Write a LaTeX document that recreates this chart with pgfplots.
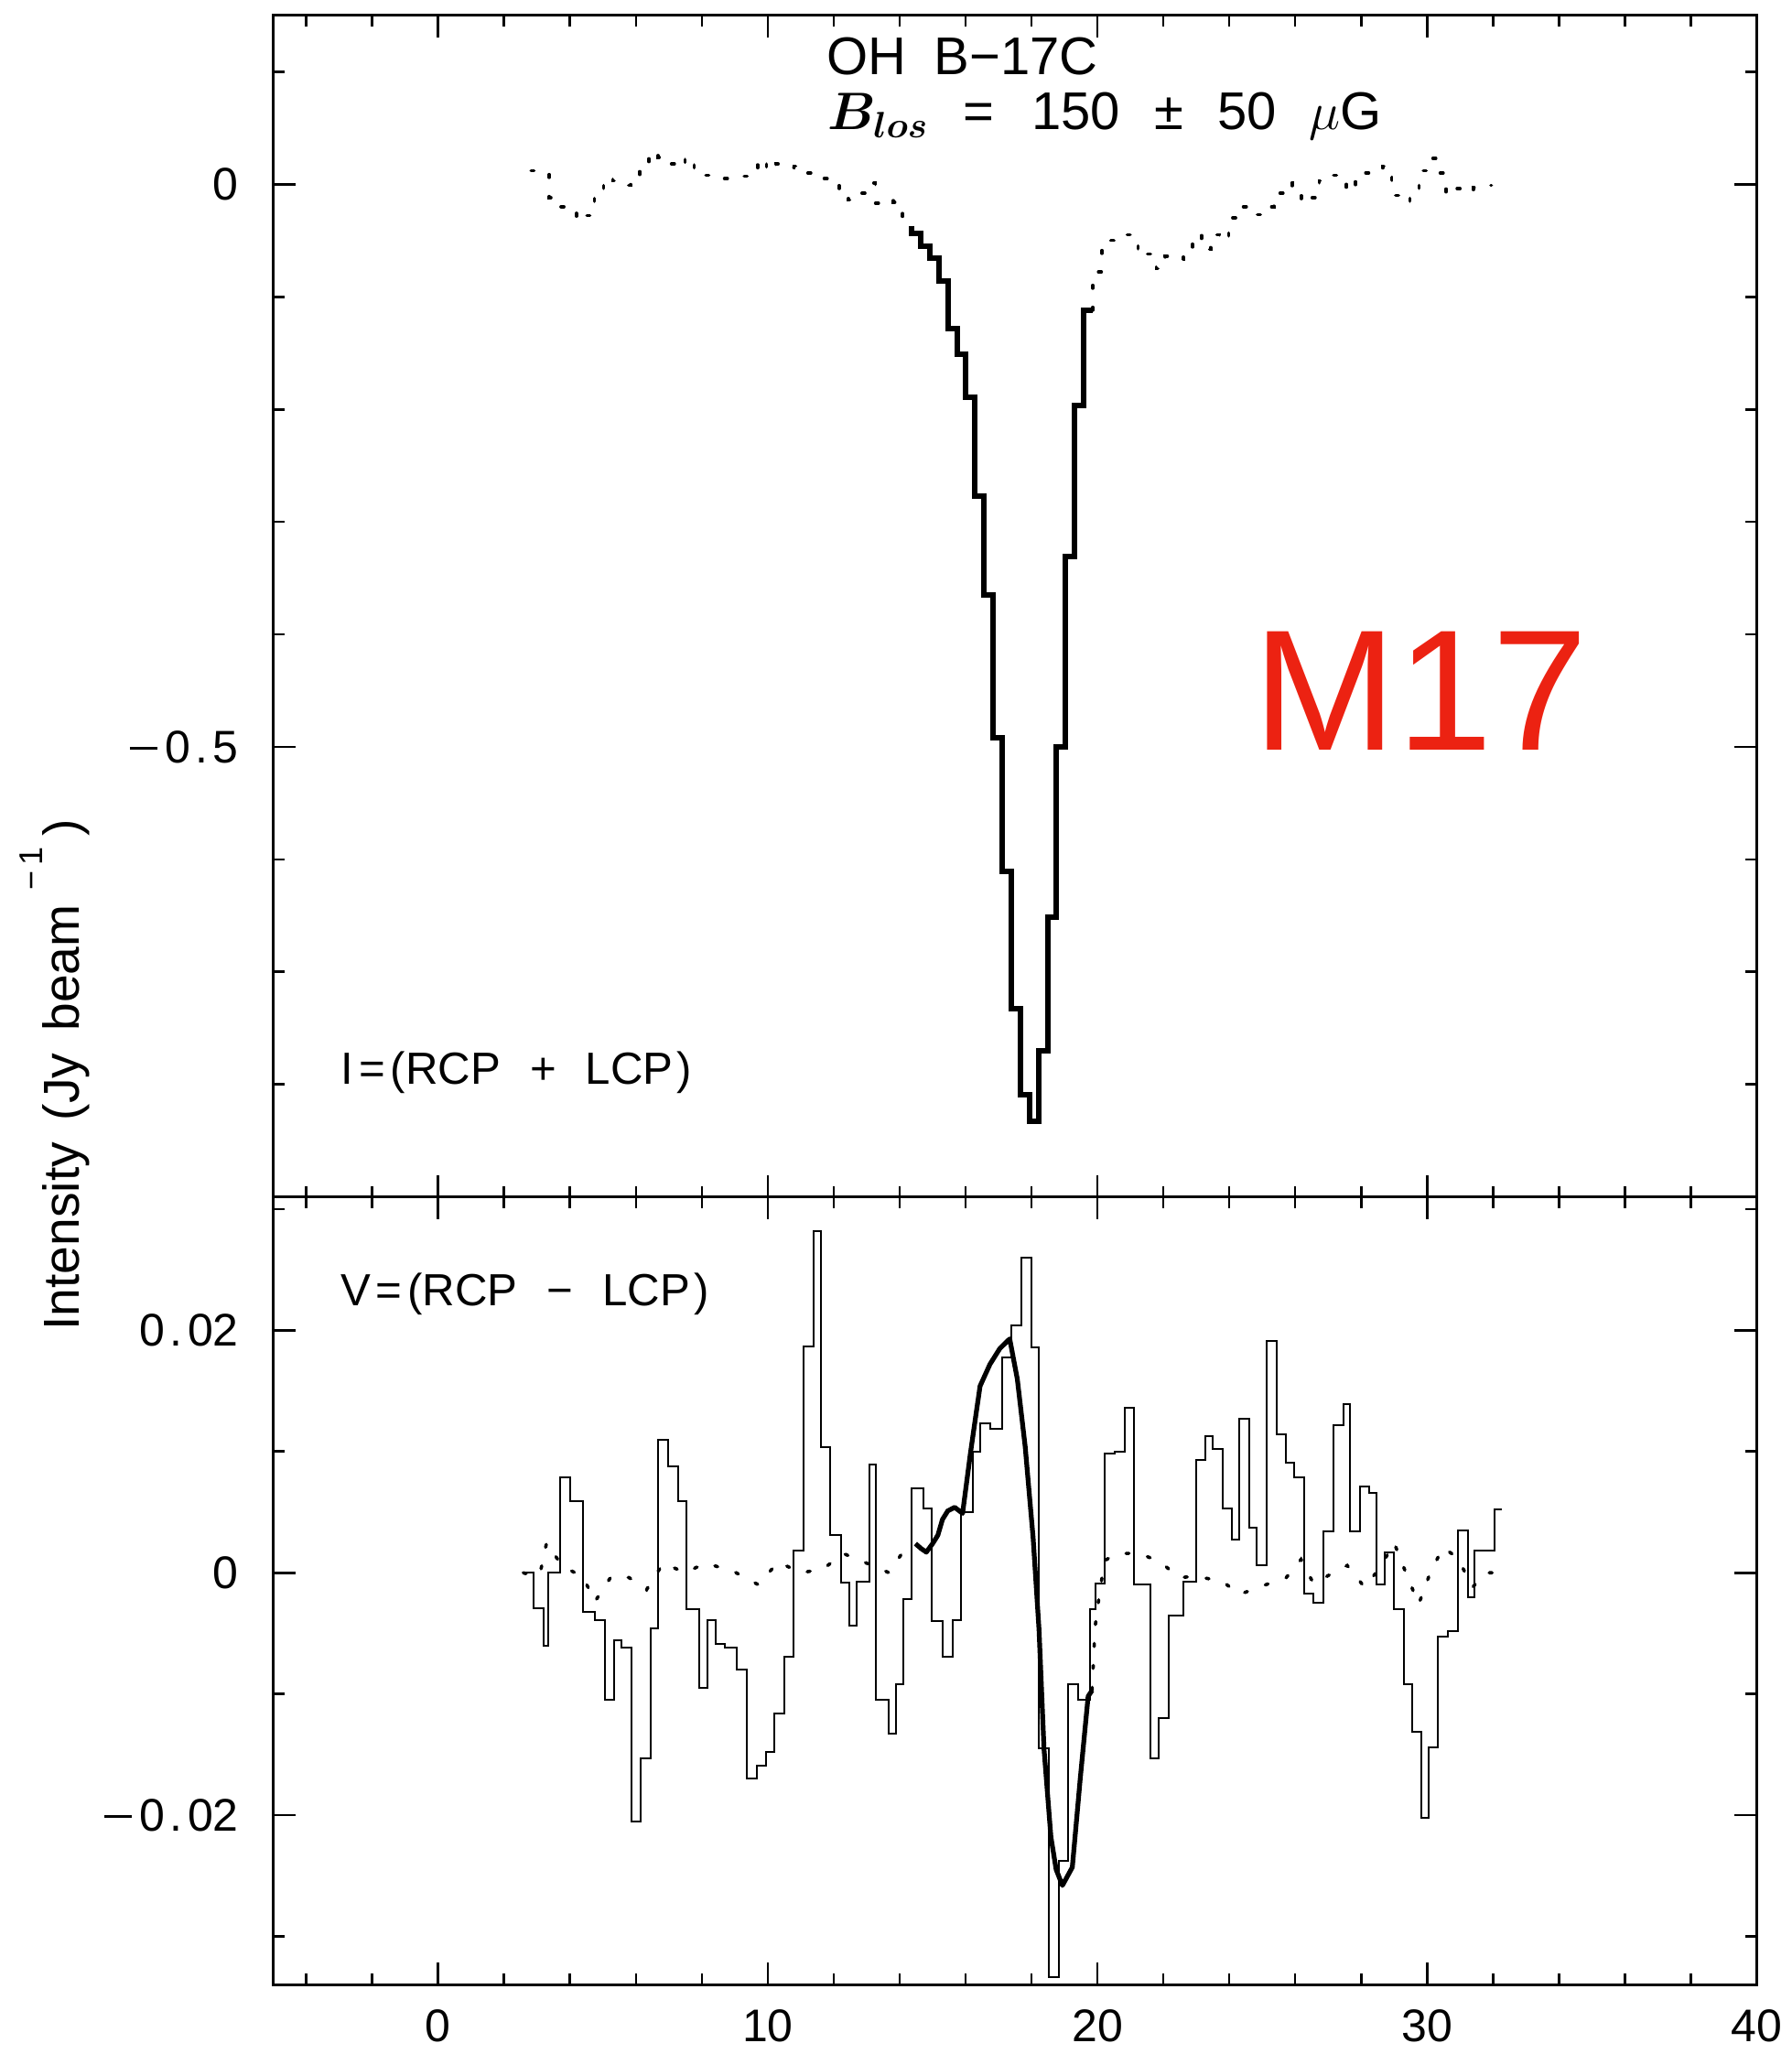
\documentclass[border=0pt]{standalone}
\usepackage{fontspec}
\setmainfont{Liberation Sans}
\usepackage{bm}
\usepackage{pgfplots}
\pgfplotsset{compat=1.18}
\definecolor{mred}{RGB}{236,34,18}
% long minus and wide decimal point, as in the tick labels of the original
\newcommand{\mns}{\rule[3.5pt]{7.5pt}{0.75pt}\kern2.2pt}
\newcommand{\dt}{\kern1.3pt.\kern1.3pt}

\begin{document}
\begin{tikzpicture}
\useasboundingbox (-74.7pt,-18.9pt) rectangle (414.6pt,542.1pt);
\pgfplotsset{
  zbase/.style={
    scale only axis, width=405.1pt, xmin=-5, xmax=40,
    axis line style={line width=0.8pt},
    every tick/.style={black, line width=0.7pt},
    major tick length=6pt, minor tick length=3pt,
    tick align=inside,
    xtick={0,10,20,30,40},
    minor xtick={-4,-2,...,38},
    scaled y ticks=false,
    tick label style={font=\fontsize{12.5}{15}\selectfont},
    yticklabel style={xshift=-6pt},
    xticklabel style={yshift=-3.3pt},
  },
  pdot/.style={black, line width=0.9pt, line cap=round, dash pattern=on 0.8pt off 5.2pt},
}

% lower panel: V = RCP - LCP
\begin{axis}[zbase, at={(0pt,0pt)}, anchor=south west, height=215.15pt,
  ymin=-0.034, ymax=0.031,
  ytick={-0.02,0,0.02}, yticklabels={\mns0\dt02,0,0\dt02},
  minor ytick={-0.03,-0.01,0.01,0.03},
  xticklabels={0,10,20,30,40}]
\addplot[black, line width=0.5pt, const plot mark right] table {
2.58 0.000
2.90 0.000
3.20 -0.0029
3.35 -0.0060
3.71 0.000
4.00 0.0079
4.39 0.0059
4.75 -0.0032
5.05 -0.0039
5.34 -0.0105
5.55 -0.0056
5.85 -0.0062
6.15 -0.0205
6.44 -0.0153
6.68 -0.0046
6.98 0.0110
7.28 0.0088
7.52 0.0059
7.93 -0.0030
8.17 -0.0095
8.41 -0.0039
8.71 -0.0059
9.06 -0.0062
9.36 -0.0080
9.66 -0.0170
9.96 -0.0159
10.19 -0.0148
10.49 -0.0116
10.79 -0.0069
11.09 0.0018
11.38 0.0187
11.62 0.0282
11.89 0.0104
12.22 0.0031
12.46 -0.0008
12.69 -0.0044
13.08 -0.0007
13.29 0.0089
13.68 -0.0105
13.88 -0.0133
14.12 -0.0092
14.36 -0.0022
14.72 0.0070
14.96 0.0053
15.31 -0.0040
15.61 -0.0069
15.85 -0.0039
16.21 0.0050
16.44 0.0100
16.74 0.0123
17.10 0.0119
17.40 0.0178
17.69 0.0204
17.99 0.0260
18.23 0.0186
18.53 -0.0145
18.83 -0.0334
19.12 -0.0238
19.42 -0.0092
19.78 -0.0105
19.93 -0.0030
20.22 -0.0009
20.52 0.0098
20.82 0.0100
21.12 0.0136
21.62 -0.0010
21.86 -0.0153
22.16 -0.0120
22.61 -0.0035
22.99 -0.0007
23.29 0.0093
23.50 0.0113
23.80 0.0102
24.09 0.0053
24.30 0.0027
24.60 0.0127
24.84 0.0037
25.14 0.0006
25.43 0.0191
25.73 0.0114
25.97 0.0091
26.27 0.0079
26.56 -0.0017
26.86 -0.0025
27.16 0.0034
27.46 0.0122
27.67 0.0139
27.96 0.0034
28.26 0.0071
28.47 0.0066
28.71 -0.0010
29.00 0.0017
29.30 -0.0030
29.54 -0.0092
29.84 -0.0131
30.05 -0.0202
30.34 -0.0144
30.64 -0.0053
30.94 -0.0048
31.24 0.0035
31.44 -0.0020
32.04 0.0018
32.28 0.0052
};
% fitted derivative outside the fit range
\addplot[pdot] table {
2.58 0.0000
2.90 -0.0003
3.11 0.0002
3.29 0.0025
3.77 0.0005
4.39 -0.0003
4.75 -0.0024
5.25 -0.0003
5.79 -0.0004
6.32 -0.0014
6.83 0.0008
7.49 0.0000
8.11 0.0008
8.97 0.0001
9.72 -0.0010
10.31 0.0009
11.00 0.0000
11.68 0.0003
12.28 0.0016
13.08 0.0007
13.68 0.0000
14.12 0.0018
14.48 0.0024
};
\addplot[pdot] table {
19.84 -0.0097
19.93 -0.0045
20.05 -0.0020
20.22 0.0010
20.60 0.0016
21.26 0.0016
21.92 0.0009
22.46 -0.0004
22.99 -0.0003
23.80 -0.0007
24.30 -0.0018
25.20 -0.0009
25.73 -0.0004
26.18 0.0011
26.56 -0.0009
27.16 0.0000
27.58 0.0006
28.11 -0.0012
28.60 0.0005
29.00 0.0025
29.36 0.0000
29.75 -0.0026
30.10 0.0000
30.49 0.0021
30.94 0.0012
31.38 -0.0012
31.80 0.0000
32.13 0.0000
};
% fit inside the range
\addplot[black, line width=1.3pt, line join=round] table {
14.48 0.0024
14.65 0.0020
14.81 0.0017
15.00 0.0024
15.16 0.0031
15.30 0.0044
15.46 0.0051
15.67 0.0054
15.91 0.0049
16.15 0.0099
16.44 0.0154
16.74 0.0172
17.04 0.0185
17.34 0.0193
17.57 0.0160
17.81 0.0104
18.05 0.0029
18.23 -0.0047
18.38 -0.0145
18.59 -0.0218
18.75 -0.0245
18.94 -0.0258
19.24 -0.0243
19.48 -0.0170
19.72 -0.0102
19.84 -0.0097
};
\end{axis}

% upper panel: I = RCP + LCP
\begin{axis}[zbase, at={(0pt,215.15pt)}, anchor=south west, height=322.75pt,
  ymin=-0.9, ymax=0.15,
  ytick={-0.5,0}, yticklabels={\mns0\dt5,0},
  minor ytick={-0.9,-0.8,-0.7,-0.6,-0.4,-0.3,-0.2,-0.1,0.1},
  xticklabels={}]
\addplot[pdot, const plot mark right] table {
2.817 0.012
3.092 0.012
3.367 0.012
3.642 -0.012
3.917 -0.020
4.192 -0.024
4.467 -0.032
4.742 -0.028
5.017 -0.005
5.291 0.006
5.566 0.003
5.841 -0.001
6.116 0.004
6.391 0.020
6.666 0.0285
6.941 0.024
7.216 0.018
7.491 0.015
7.765 0.024
8.040 0.014
8.315 0.008
8.590 0.008
8.865 0.005
9.140 0.006
9.415 0.007
9.690 0.010
9.965 0.022
10.240 0.012
10.514 0.018
10.789 0.015
11.064 0.016
11.339 0.010
11.614 0.006
11.889 0.005
12.164 0.003
12.439 -0.004
12.714 -0.014
12.989 -0.008
13.263 0.001
13.538 -0.017
13.813 -0.014
14.088 -0.016
14.363 -0.037
};
\addplot[pdot, const plot mark right] table {
19.861 -0.112
20.136 -0.078
20.411 -0.050
20.686 -0.050
20.961 -0.045
21.236 -0.045
21.510 -0.064
21.785 -0.062
22.060 -0.075
22.335 -0.064
22.610 -0.067
22.885 -0.060
23.160 -0.045
23.435 -0.058
23.710 -0.045
23.985 -0.050
24.259 -0.030
24.534 -0.020
24.809 -0.022
25.084 -0.027
25.359 -0.020
25.634 -0.008
25.909 0.001
26.184 -0.006
26.459 -0.016
26.734 -0.012
27.008 0.003
27.283 0.008
27.558 0.002
27.833 -0.006
28.108 0.003
28.383 0.010
28.658 0.012
28.933 0.016
29.208 -0.010
29.483 -0.016
29.757 -0.006
30.032 0.012
30.307 0.023
30.582 0.010
30.857 -0.009
31.132 -0.004
31.407 -0.007
31.682 -0.003
31.957 -0.001
};
\addplot[black, line width=1.5pt, const plot mark right] table {
14.363 -0.037
14.638 -0.044
14.913 -0.055
15.188 -0.066
15.463 -0.086
15.738 -0.128
16.012 -0.151
16.287 -0.189
16.562 -0.277
16.837 -0.365
17.112 -0.492
17.387 -0.611
17.662 -0.733
17.937 -0.809
18.212 -0.833
18.487 -0.770
18.761 -0.651
19.036 -0.500
19.311 -0.331
19.586 -0.197
19.861 -0.112
};
\end{axis}

\node[anchor=base west, inner sep=0pt, text=mred, font=\fontsize{47}{50}\selectfont] at (267.5pt,337.1pt) {M17};
\node[anchor=base west, inner sep=0pt, font=\fontsize{14.5}{17}\selectfont] at (151pt,521.6pt) {OH\hspace{7.5pt}B−17C};
\node[anchor=base west, inner sep=0pt, font=\fontsize{14.5}{17}\selectfont] at (151.2pt,506.6pt) {$\bm{B}_{\bm{los}}$\hspace{9.3pt}=\hspace{10.3pt}150\hspace{9.3pt}±\hspace{9.3pt}50\hspace{8.8pt}$\mu$G};
\node[anchor=base west, inner sep=0pt, font=\fontsize{12.3}{14}\selectfont] at (18.2pt,245.9pt) {I\kern1.5pt=\kern1.5pt(RCP\hspace{8pt}+\hspace{8pt}LCP\kern1pt)};
\node[anchor=base west, inner sep=0pt, font=\fontsize{12.3}{14}\selectfont] at (18.1pt,185.4pt) {V\kern1.5pt=\kern1.5pt(RCP\hspace{8pt}−\hspace{8pt}LCP\kern1pt)};
\node[rotate=90, anchor=base west, inner sep=0pt, font=\fontsize{13.8}{16}\selectfont] at (-53pt,178.5pt) {Intensity\hspace{6pt}(Jy\hspace{6pt}beam\hspace{4pt}\raisebox{10pt}{\fontsize{9}{10}\selectfont −\,1}\hspace{3pt})};
\end{tikzpicture}
\end{document}
